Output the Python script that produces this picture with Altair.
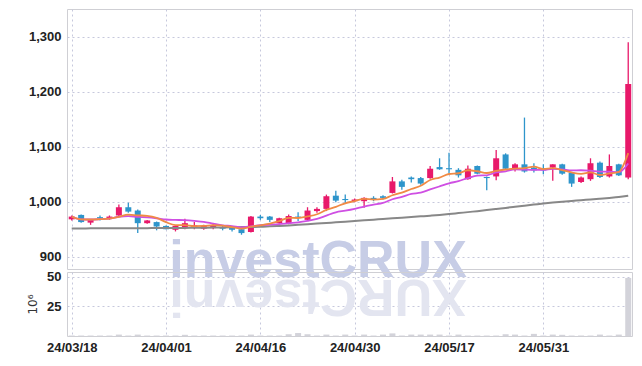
import altair as alt
import pandas as pd

# ---- data ----
dates = [
    "2024-03-18", "2024-03-19", "2024-03-20", "2024-03-21", "2024-03-22",
    "2024-03-25", "2024-03-26", "2024-03-27", "2024-03-28", "2024-03-29",
    "2024-04-01", "2024-04-02", "2024-04-03", "2024-04-04", "2024-04-05",
    "2024-04-08", "2024-04-09", "2024-04-11", "2024-04-12", "2024-04-15",
    "2024-04-16", "2024-04-17", "2024-04-18", "2024-04-19", "2024-04-22",
    "2024-04-23", "2024-04-24", "2024-04-25", "2024-04-26", "2024-04-29",
    "2024-04-30", "2024-05-02", "2024-05-03", "2024-05-07", "2024-05-08",
    "2024-05-09", "2024-05-10", "2024-05-13", "2024-05-14", "2024-05-16",
    "2024-05-17", "2024-05-20", "2024-05-21", "2024-05-22", "2024-05-23",
    "2024-05-24", "2024-05-27", "2024-05-28", "2024-05-29", "2024-05-30",
    "2024-05-31", "2024-06-03", "2024-06-04", "2024-06-05", "2024-06-07",
    "2024-06-10", "2024-06-11", "2024-06-12", "2024-06-13", "2024-06-14",
]
opens = [968, 976, 962, 972, 970, 975, 990, 984, 961, 963,
         956, 949, 952, 954, 951, 952, 954, 954, 950, 945,
         973, 973, 961, 961, 973, 967, 983, 987, 1011, 1005,
         1001, 1001, 1007, 1010, 1016, 1037, 1044, 1043, 1043, 1063,
         1061, 1058, 1041, 1065, 1045, 1046, 1086, 1060, 1068, 1062,
         1061, 1062, 1068, 1053, 1036, 1041, 1071, 1046, 1068, 1044]
highs = [975, 977, 968, 975, 975, 995, 998, 986, 967, 964,
         957, 957, 969, 963, 958, 959, 956, 955, 951, 974,
         976, 974, 971, 977, 981, 990, 990, 1013, 1020, 1013,
         1006, 1008, 1010, 1012, 1045, 1040, 1046, 1045, 1065, 1079,
         1089, 1061, 1066, 1066, 1046, 1094, 1088, 1070, 1153, 1070,
         1068, 1068, 1069, 1054, 1046, 1079, 1073, 1086, 1069, 1290]
lows = [966, 962, 958, 966, 967, 974, 980, 943, 960, 948,
        950, 946, 950, 950, 949, 950, 948, 946, 940, 944,
        967, 963, 960, 959, 965, 966, 980, 983, 999, 996,
        999, 989, 1001, 1004, 1015, 1022, 1035, 1031, 1042, 1058,
        1051, 1044, 1040, 1050, 1021, 1039, 1058, 1055, 1053, 1053,
        1050, 1038, 1049, 1027, 1034, 1038, 1043, 1044, 1047, 1041]
closes = [973, 963, 967, 970, 973, 990, 982, 961, 966, 955,
          950, 956, 961, 957, 956, 957, 951, 949, 943, 973,
          970, 967, 970, 974, 971, 984, 987, 1010, 1002, 1003,
          1004, 1007, 1004, 1007, 1037, 1027, 1041, 1033, 1060, 1059,
          1059, 1048, 1060, 1051, 1043, 1079, 1060, 1068, 1055, 1057,
          1057, 1068, 1051, 1033, 1044, 1070, 1045, 1065, 1048, 1214]
volumes = [0.4, 0.4, 0.4, 0.4, 0.4, 1.2, 0.4, 1.2, 0.4, 0.4,
           0.4, 0.4, 1.0, 0.4, 0.4, 0.4, 0.4, 0.4, 0.4, 1.2,
           0.4, 0.4, 0.4, 1.5, 2.5, 1.5, 0.4, 1.2, 0.4, 1.2,
           0.4, 1.2, 0.4, 1.2, 2.2, 0.4, 1.2, 1.2, 1.2, 1.2,
           0.4, 1.2, 0.4, 0.4, 0.4, 0.4, 1.5, 1.2, 0.4, 1.8,
           0.4, 1.2, 1.0, 0.4, 0.4, 0.4, 1.2, 0.4, 1.2, 49.0]
ma_long = [951.5, 951.5, 951.6, 951.6, 951.7, 951.8, 951.8, 951.9, 952.0, 952.1,
           952.2, 952.3, 952.4, 952.6, 952.8, 953.0, 953.3, 953.6, 953.9, 954.2,
           954.5, 955.3, 956.1, 957.0, 958.0, 959.0, 960.2, 961.4, 962.6, 963.8,
           965.0, 966.2, 967.4, 968.6, 969.8, 971.0, 972.2, 973.4, 974.6, 975.9,
           977.5, 979.3, 981.1, 982.9, 984.8, 986.8, 988.8, 990.8, 992.8, 994.8,
           996.8, 998.5, 1000.0, 1001.4, 1002.8, 1004.2, 1005.6, 1007.0, 1008.6, 1011.0]
x_tick_idx = [0, 10, 20, 30, 40, 50]
price_ticks = [900, 1000, 1100, 1200, 1300]
vol_ticks = [25, 50]
watermark = ["investCRUX"]
watermark_reflect = ["XURCtsevni"]

df = pd.DataFrame({
    "idx": list(range(len(dates))),
    "date": dates,
    "open": opens,
    "high": highs,
    "low": lows,
    "close": closes,
    "volume": volumes,
    "ma_long": ma_long,
})

labels = [d[2:4] + "/" + d[5:7] + "/" + d[8:10] for d in dates]
label_expr = "[" + ",".join("'" + s + "'" for s in labels) + "][datum.value]"

FONT = "Liberation Sans"
GRID = "#c6c8dc"
UP = "#e8196a"
DOWN = "#2e95cb"

xscale = alt.Scale(domain=[-0.5, 59.4], nice=False, zero=False, padding=0)
x_top = alt.X("idx:Q", scale=xscale,
              axis=alt.Axis(values=x_tick_idx, labels=False, title=None))
y_price_scale = alt.Scale(domain=[877.7, 1350.4], nice=False, zero=False, padding=0)
y_axis = alt.Axis(values=price_ticks, title=None, format=",d", minExtent=40, maxExtent=40)

color_cond = alt.condition("datum.close >= datum.open", alt.value(UP), alt.value(DOWN))

base = alt.Chart(df)

wm = alt.Chart(pd.DataFrame({"t": watermark})).mark_text(
    font=FONT, fontSize=52, fontWeight="bold", color="#c7cde6",
    align="center", baseline="alphabetic"
).encode(x=alt.value(251), y=alt.value(268), text="t:N")

wick = base.mark_rule(strokeWidth=1.3).encode(
    x=x_top,
    y=alt.Y("low:Q", scale=y_price_scale, axis=y_axis),
    y2="high:Q",
    color=color_cond,
)
body = base.mark_bar(size=6).encode(
    x=x_top,
    y=alt.Y("open:Q", scale=y_price_scale, axis=y_axis),
    y2="close:Q",
    color=color_cond,
)
ma_gray = base.mark_line(color="#888888", strokeWidth=2, interpolate="monotone").encode(
    x=x_top, y=alt.Y("ma_long:Q", scale=y_price_scale, axis=y_axis))
ma5 = base.transform_window(
    ma5="mean(close)", frame=[-4, 0], sort=[alt.SortField("idx")]
).mark_line(color="#f08a45", strokeWidth=1.8, interpolate="monotone").encode(
    x=x_top, y=alt.Y("ma5:Q", scale=y_price_scale, axis=y_axis))
ma10 = base.transform_window(
    ma10="mean(close)", frame=[-9, 0], sort=[alt.SortField("idx")]
).mark_line(color="#cf4fe3", strokeWidth=1.8, interpolate="monotone").encode(
    x=x_top, y=alt.Y("ma10:Q", scale=y_price_scale, axis=y_axis))

price = alt.layer(wm, wick, body, ma_gray, ma10, ma5).properties(width=565, height=260)

x_bot = alt.X("idx:Q", scale=xscale,
              axis=alt.Axis(values=x_tick_idx, labelExpr=label_expr, title=None,
                            labelPadding=5))
wm2 = alt.Chart(pd.DataFrame({"t": watermark_reflect})).mark_text(
    font=FONT, fontSize=52, fontWeight="bold", color="#e3e5f0",
    align="center", baseline="alphabetic", angle=180
).encode(x=alt.value(251), y=alt.value(8), text="t:N")
vol_bars = base.mark_bar(size=6, color="#d3d3da").encode(
    x=x_bot,
    y=alt.Y("volume:Q", scale=alt.Scale(domain=[0, 54], nice=False, padding=0),
            axis=alt.Axis(values=vol_ticks, title="10⁶", minExtent=18, maxExtent=18,
                          titleFont="DejaVu Sans", titleFontWeight="normal",
                          titleFontSize=12, titleColor="#333333", titlePadding=10)),
)
volume = alt.layer(wm2, vol_bars).properties(width=565, height=64)

chart = alt.vconcat(price, volume, spacing=3, bounds="flush").properties(
    padding={"left": 17, "top": 0, "right": 0, "bottom": 0},
    background="white",
).configure_view(stroke="#cfcfd4").configure_axis(
    labelFont=FONT, labelFontWeight="bold", labelFontSize=13, labelColor="#222222",
    grid=True, gridColor=GRID, gridDash=[2, 3], gridWidth=1,
    domain=False, ticks=False, labelPadding=6,
)

chart.save("out.html", embed_options={"renderer": "svg", "actions": False})
